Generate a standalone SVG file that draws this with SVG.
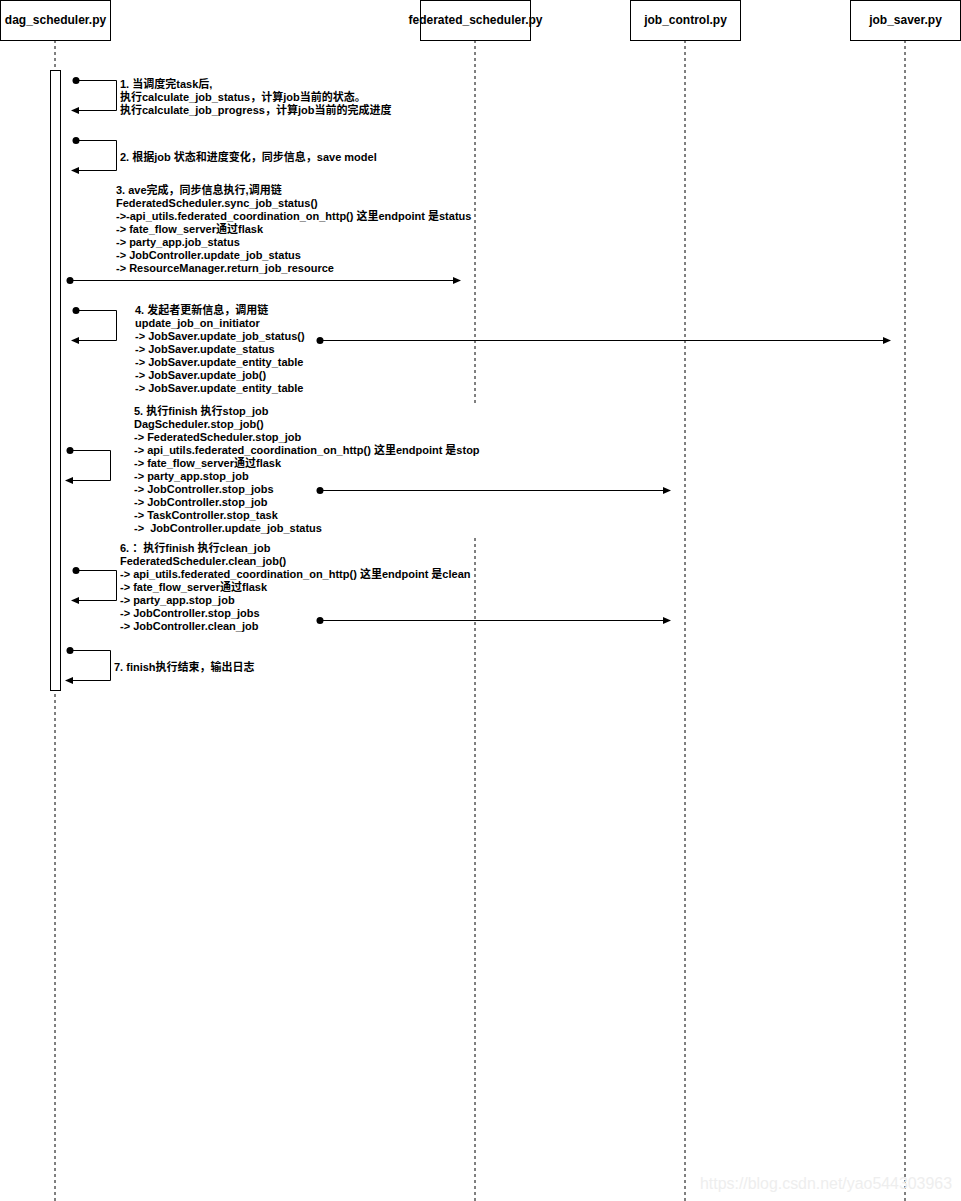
<svg xmlns="http://www.w3.org/2000/svg" width="961" height="1201" viewBox="0 0 961 1201">
<style>
.box{fill:#fff;stroke:#000;stroke-width:1}
.life{stroke:#000;stroke-width:1;stroke-dasharray:3,3;fill:none}
.ln{stroke:#000;stroke-width:1;fill:none}
.hd{font-family:"Liberation Sans","Noto Sans CJK SC",sans-serif;font-size:12px;font-weight:bold;fill:#000;text-anchor:middle}
.lb{font-family:"Liberation Sans","Noto Sans CJK SC",sans-serif;font-size:11px;font-weight:bold;fill:#000;white-space:pre}
.wm{font-family:"Liberation Sans",sans-serif;font-size:16px;fill:#eeeeee}
</style>
<defs>
<marker id="arr" markerWidth="8" markerHeight="8" refX="7" refY="4" orient="auto" markerUnits="userSpaceOnUse">
<path d="M0,0.5 L8,4 L0,7.5 Z" fill="#000"/>
</marker>
<marker id="dot" markerWidth="8" markerHeight="8" refX="4" refY="4" markerUnits="userSpaceOnUse">
<circle cx="4" cy="4" r="3.5" fill="#000"/>
</marker>
</defs>
<rect width="961" height="1201" fill="#fff"/>
<g id="lifelines">
<line class="life" x1="55" y1="40" x2="55" y2="1201"/>
<line class="life" x1="475" y1="40" x2="475" y2="1201"/>
<line class="life" x1="685" y1="40" x2="685" y2="1201"/>
<line class="life" x1="905" y1="40" x2="905" y2="1201"/>
</g>
<rect x="132" y="404" width="350" height="134" fill="#fff"/>
<g id="dag_scheduler">
<rect class="box" x="0.5" y="0.5" width="110" height="40"/>
<text class="hd" x="55.5" y="24">dag_scheduler.py</text>
</g>
<g id="federated_scheduler">
<rect class="box" x="420.5" y="0.5" width="110" height="40"/>
<text class="hd" x="475.5" y="24">federated_scheduler.py</text>
</g>
<g id="job_control">
<rect class="box" x="630.5" y="0.5" width="110" height="40"/>
<text class="hd" x="685.5" y="24">job_control.py</text>
</g>
<g id="job_saver">
<rect class="box" x="850.5" y="0.5" width="110" height="40"/>
<text class="hd" x="905.5" y="24">job_saver.py</text>
</g>
<g id="activation">
<rect class="box" x="50.5" y="70.5" width="10" height="620"/>
</g>
<g id="connectors">
<polyline class="ln" points="76,80.5 116.5,80.5 116.5,110.5 72,110.5" marker-start="url(#dot)" marker-end="url(#arr)"/>
<polyline class="ln" points="76,140.5 116.5,140.5 116.5,170.5 72,170.5" marker-start="url(#dot)" marker-end="url(#arr)"/>
<line class="ln" x1="70" y1="280.5" x2="460" y2="280.5" marker-start="url(#dot)" marker-end="url(#arr)"/>
<polyline class="ln" points="76,310.5 116.5,310.5 116.5,340.5 72,340.5" marker-start="url(#dot)" marker-end="url(#arr)"/>
<line class="ln" x1="320" y1="340.5" x2="890" y2="340.5" marker-start="url(#dot)" marker-end="url(#arr)"/>
<polyline class="ln" points="70,450.5 110.5,450.5 110.5,480.5 66,480.5" marker-start="url(#dot)" marker-end="url(#arr)"/>
<line class="ln" x1="320" y1="490.5" x2="670" y2="490.5" marker-start="url(#dot)" marker-end="url(#arr)"/>
<polyline class="ln" points="76,570.5 116.5,570.5 116.5,600.5 72,600.5" marker-start="url(#dot)" marker-end="url(#arr)"/>
<line class="ln" x1="320" y1="620.5" x2="670" y2="620.5" marker-start="url(#dot)" marker-end="url(#arr)"/>
<polyline class="ln" points="70,650.5 110.5,650.5 110.5,680.5 66,680.5" marker-start="url(#dot)" marker-end="url(#arr)"/>
</g>
<g id="labels">
<text class="lb" x="120" y="88"><tspan x="120">1. 当调度完task后,</tspan><tspan x="120" dy="13">执行calculate_job_status，计算job当前的状态。</tspan><tspan x="120" dy="13">执行calculate_job_progress，计算job当前的完成进度</tspan></text>
<text class="lb" x="120" y="161">2. 根据job 状态和进度变化，同步信息，save model</text>
<text class="lb" x="116" y="194"><tspan x="116">3. ave完成，同步信息执行,调用链</tspan><tspan x="116" dy="13">FederatedScheduler.sync_job_status()</tspan><tspan x="116" dy="13">-&gt;-api_utils.federated_coordination_on_http() 这里endpoint 是status</tspan><tspan x="116" dy="13">-&gt; fate_flow_server通过flask</tspan><tspan x="116" dy="13">-&gt; party_app.job_status</tspan><tspan x="116" dy="13">-&gt; JobController.update_job_status</tspan><tspan x="116" dy="13">-&gt; ResourceManager.return_job_resource</tspan></text>
<text class="lb" x="135" y="314"><tspan x="135">4. 发起者更新信息，调用链</tspan><tspan x="135" dy="13">update_job_on_initiator</tspan><tspan x="135" dy="13">-&gt; JobSaver.update_job_status()</tspan><tspan x="135" dy="13">-&gt; JobSaver.update_status</tspan><tspan x="135" dy="13">-&gt; JobSaver.update_entity_table</tspan><tspan x="135" dy="13">-&gt; JobSaver.update_job()</tspan><tspan x="135" dy="13">-&gt; JobSaver.update_entity_table</tspan></text>
<text class="lb" x="134" y="415"><tspan x="134">5. 执行finish 执行stop_job</tspan><tspan x="134" dy="13">DagScheduler.stop_job()</tspan><tspan x="134" dy="13">-&gt; FederatedScheduler.stop_job</tspan><tspan x="134" dy="13">-&gt; api_utils.federated_coordination_on_http() 这里endpoint 是stop</tspan><tspan x="134" dy="13">-&gt; fate_flow_server通过flask</tspan><tspan x="134" dy="13">-&gt; party_app.stop_job</tspan><tspan x="134" dy="13">-&gt; JobController.stop_jobs</tspan><tspan x="134" dy="13">-&gt; JobController.stop_job</tspan><tspan x="134" dy="13">-&gt; TaskController.stop_task</tspan><tspan x="134" dy="13">-&gt;  JobController.update_job_status</tspan></text>
<text class="lb" x="120" y="552"><tspan x="120">6. ：执行finish 执行clean_job</tspan><tspan x="120" dy="13">FederatedScheduler.clean_job()</tspan><tspan x="120" dy="13">-&gt; api_utils.federated_coordination_on_http() 这里endpoint 是clean</tspan><tspan x="120" dy="13">-&gt; fate_flow_server通过flask</tspan><tspan x="120" dy="13">-&gt; party_app.stop_job</tspan><tspan x="120" dy="13">-&gt; JobController.stop_jobs</tspan><tspan x="120" dy="13">-&gt; JobController.clean_job</tspan></text>
<text class="lb" x="114" y="671">7. finish执行结束，输出日志</text>
</g>
<text class="wm" x="700" y="1189" textLength="252" lengthAdjust="spacingAndGlyphs">https://blog.csdn.net/yao544303963</text>
</svg>
